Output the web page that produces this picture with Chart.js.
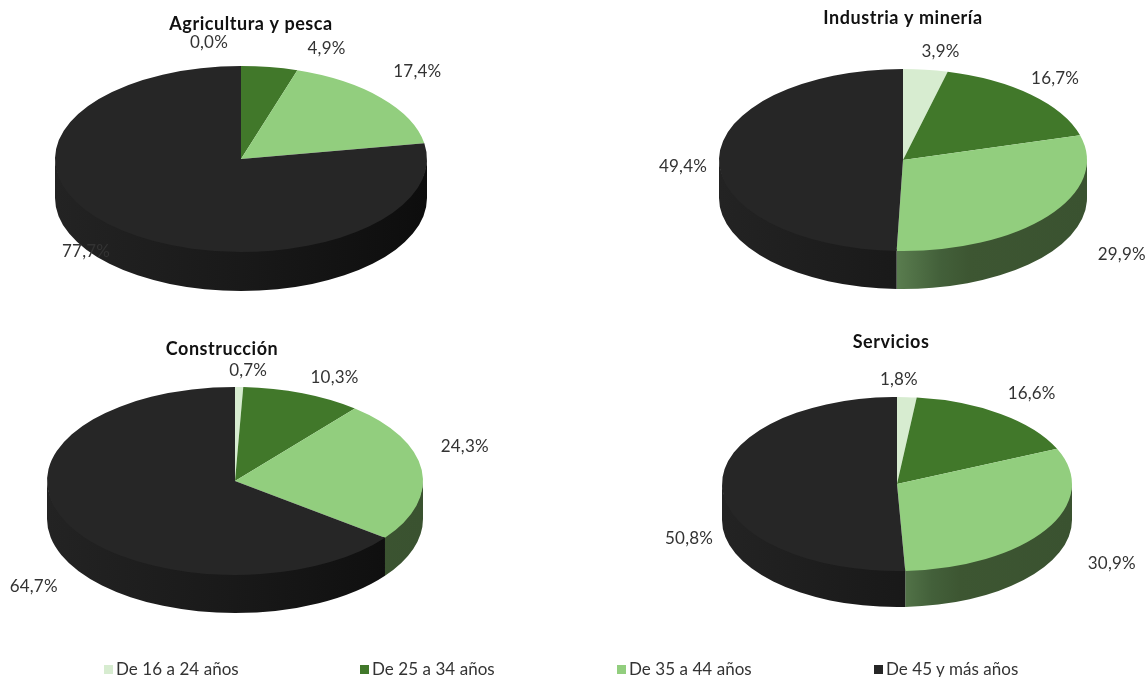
<!DOCTYPE html>
<html lang="es">
<head>
<meta charset="utf-8">
<title>Ocupados por edad y sector</title>
<script src="https://cdn.jsdelivr.net/npm/chart.js@4"></script>
<style>
    html, body { margin: 0; padding: 0; background: #fff; }
    #stage { position: relative; width: 1147px; height: 677px; overflow: hidden; }
    #stage canvas { position: absolute; }
    .legend-item { position: absolute; top: 659px; height: 20px; font: 17px Lato, sans-serif; letter-spacing: 0.05px; color: #333; white-space: nowrap; }
    .legend-item i { position: absolute; left: 0; top: 6px; width: 9px; height: 9px; }
    .legend-item span { position: absolute; left: 12px; top: 0; line-height: 20px; }
</style>
</head>
<body>
<div id="stage"></div>
<script>
// Datos
const categories = ["De 16 a 24 años", "De 25 a 34 años", "De 35 a 44 años", "De 45 y más años"];
const sectors = ["Agricultura y pesca", "Industria y minería", "Construcción", "Servicios"];
const agricultura = [0.0, 4.9, 17.4, 77.7];
const industria = [3.9, 16.7, 29.9, 49.4];
const construccion = [0.7, 10.3, 24.3, 64.7];
const servicios = [1.8, 16.6, 30.9, 50.8];
const seriesValues = [agricultura, industria, construccion, servicios];

const topColors = ["#d7ecd0", "#41782a", "#92ce7e", "#262626"];

// Posicion y tamaño de cada tarta (separado de los datos)
const SIZE = 580;
const pies = [
    { cx: 241, cy: 159, rx: 186, ry: 93, depth: 39, title: [10, -135], nudges: [[-32, -23], [57, -19], [36, -26], [-35, 21]] },
    { cx: 903, cy: 160, rx: 184, ry: 91, depth: 38, title: [0, -142], nudges: [[15, -18], [24, -16], [74, 38], [-36, 8]] },
    { cx: 235, cy: 481, rx: 188, ry: 94, depth: 38, title: [-13, -132], nudges: [[9, -17], [32, -16], [43, -24], [-33, 64]] },
    { cx: 897, cy: 484, rx: 175, ry: 87, depth: 36, title: [-6, -142], nudges: [[-8, -18], [31, -20], [66, 34], [-33, 52]] }
];
const legendLeft = [104, 360, 617, 874];

// Paredes laterales: solo se ve la mitad delantera de la elipse
function wallFill(ctx, i, x, rx) {
    const g = ctx.createLinearGradient(x - rx, 0, x + rx, 0);
    if (i === 3) {
        g.addColorStop(0, "#232323");
        g.addColorStop(0.5, "#191919");
        g.addColorStop(1, "#0d0d0d");
    } else if (i === 2) {
        g.addColorStop(0, "#5f8355");
        g.addColorStop(0.48, "#5a7d4f");
        g.addColorStop(0.6, "#43603a");
        g.addColorStop(0.68, "#3d5632");
        g.addColorStop(1, "#3a5230");
    } else if (i === 1) {
        g.addColorStop(0, "#2c4a1c");
        g.addColorStop(1, "#1f3613");
    } else {
        g.addColorStop(0, "#8a9a85");
        g.addColorStop(1, "#6c7a68");
    }
    return g;
}

const pie3d = {
    id: "pie3d",
    beforeDatasetDraw(chart, args, opts) {
        const ctx = chart.ctx;
        const arcs = chart.getDatasetMeta(0).data;
        const k = opts.ry / opts.rx;
        arcs.forEach((arc, i) => {
            const a0 = Math.max(arc.startAngle, 0);
            const a1 = Math.min(arc.endAngle, Math.PI);
            if (a1 <= a0) return;
            const rx = arc.outerRadius, ry = rx * k;
            ctx.beginPath();
            // un poco por debajo de la cara superior para que no quede borde blanco
            ctx.ellipse(arc.x, arc.y - 2, rx, ry, 0, a0, a1);
            ctx.ellipse(arc.x, arc.y + opts.depth, rx, ry, 0, a1, a0, true);
            ctx.closePath();
            ctx.fillStyle = wallFill(ctx, i, arc.x, rx);
            ctx.fill();
        });
        // Achatar la cara superior
        const c = arcs[0];
        ctx.save();
        ctx.translate(c.x, c.y);
        ctx.scale(1, k);
        ctx.translate(-c.x, -c.y);
    },
    afterDatasetDraw(chart, args, opts) {
        const ctx = chart.ctx;
        ctx.restore();
        const arcs = chart.getDatasetMeta(0).data;
        const k = opts.ry / opts.rx;
        const values = chart.data.datasets[0].data;

        ctx.textAlign = "center";
        ctx.textBaseline = "middle";
        ctx.fillStyle = "#333";
        ctx.font = "17px Lato, sans-serif";
        ctx.letterSpacing = "0.2px";
        arcs.forEach((arc, i) => {
            const mid = (arc.startAngle + arc.endAngle) / 2;
            const px = arc.x + Math.cos(mid) * arc.outerRadius + opts.nudges[i][0];
            const py = arc.y + Math.sin(mid) * arc.outerRadius * k + opts.nudges[i][1];
            ctx.fillText(values[i].toFixed(1).replace(".", ",") + "%", px, py);
        });

        ctx.fillStyle = "#111";
        ctx.font = "bold 18px Lato, sans-serif";
        ctx.letterSpacing = "0.55px";
        ctx.fillText(opts.text, arcs[0].x + opts.title[0], arcs[0].y + opts.title[1]);
        ctx.letterSpacing = "0px";
    }
};

const stage = document.getElementById("stage");

pies.forEach((p, n) => {
    const canvas = document.createElement("canvas");
    canvas.width = SIZE;
    canvas.height = SIZE;
    canvas.style.left = (p.cx - SIZE / 2) + "px";
    canvas.style.top = (p.cy - SIZE / 2) + "px";
    canvas.style.width = SIZE + "px";
    canvas.style.height = SIZE + "px";
    stage.appendChild(canvas);

    new Chart(canvas.getContext("2d"), {
        type: "pie",
        data: {
            labels: categories,
            datasets: [{
                label: sectors[n],
                data: seriesValues[n],
                backgroundColor: topColors,
                borderWidth: 0,
                radius: p.rx
            }]
        },
        options: {
            responsive: false,
            animation: false,
            layout: { padding: 0 },
            plugins: {
                legend: { display: false },
                title: { display: false },
                tooltip: { enabled: false },
                pie3d: { rx: p.rx, ry: p.ry, depth: p.depth, title: p.title, nudges: p.nudges, text: sectors[n] }
            }
        },
        plugins: [pie3d]
    });
});

// Leyenda inferior
categories.forEach((name, i) => {
    const item = document.createElement("div");
    item.className = "legend-item";
    item.style.left = legendLeft[i] + "px";
    item.innerHTML = `<i style="background:${topColors[i]}"></i><span>${name}</span>`;
    stage.appendChild(item);
});
</script>
</body>
</html>
